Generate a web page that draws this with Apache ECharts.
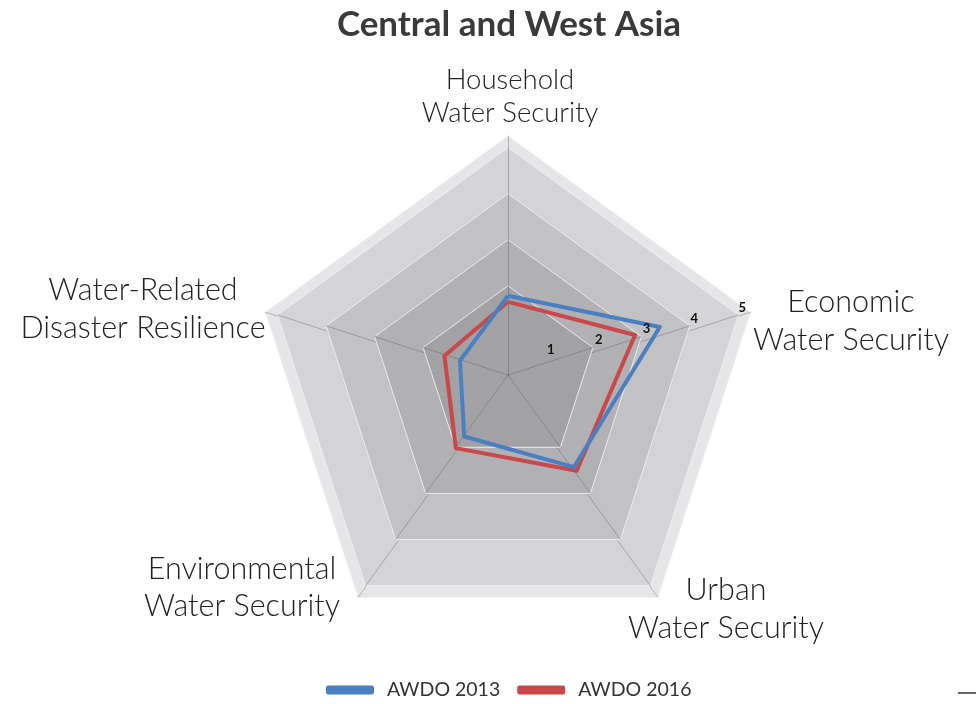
<!DOCTYPE html>
<html>
<head>
<meta charset="utf-8">
<script src="https://cdn.jsdelivr.net/npm/echarts@6/dist/echarts.min.js"></script>
<style>
html,body{margin:0;padding:0;background:#fff;}
#chart{width:977px;height:704px;}
</style>
</head>
<body>
<div id="chart"></div>
<script>
// ---- data (indicator order follows ECharts radar layout: top, then counter-clockwise) ----
const categories = [
  'Household\nWater Security',
  'Water-Related\nDisaster Resilience',
  'Environmental\nWater Security',
  'Urban\nWater Security',
  'Economic\nWater Security'
];
const awdo2013 = [1.58, 0.99, 1.46, 2.20, 3.13];
const awdo2016 = [1.46, 1.31, 1.74, 2.29, 2.62];
const tickLabels = ['1', '2', '3', '4', '5'];
const seriesNames = ['AWDO 2013', 'AWDO 2016'];
const scaleMax = 5;

// ---- layout / style ----
const FONT = 'Lato, "Open Sans", sans-serif';
const apex = [508, 366.5];
const outerCenterY = 391;
const outerR = 255;
const ringScales = [1, 0.95, 0.75, 0.55, 0.35];
const ringColors = ['#e6e6e8', '#d4d4d6', '#c2c2c4', '#b1b1b3', '#a2a2a4'];
const nameLayout = [[510, 97, 27.5, 33], [143, 309, 30.5, 38], [242, 588, 30.5, 37], [726, 609, 30.5, 38], [851, 321, 30.5, 38]];
const seriesColors = ['#4a7fc1', '#c9484a'];

const radars = [];
ringScales.forEach(function (s, j) {
  const c = [apex[0], apex[1] + s * (outerCenterY - apex[1])];
  const base = {
    center: c,
    radius: outerR * s,
    shape: 'polygon',
    splitNumber: 1,
    indicator: categories.map(function () { return { name: '', min: 0, max: 1 }; }),
    axisName: { show: false },
    axisTick: { show: false },
    axisLabel: { show: false },
    silent: true
  };
  radars.push(Object.assign({}, base, {
    z: 2 * j,
    axisLine: { show: false },
    splitLine: { show: true, lineStyle: { color: 'rgba(240,240,242,0.9)', width: 1 } },
    splitArea: { show: true, areaStyle: { color: [ringColors[j]] } }
  }));
  radars.push(Object.assign({}, base, {
    z: 2 * j + 1,
    axisLine: { show: true, lineStyle: { color: 'rgba(80,80,85,0.35)', width: 1 } },
    splitLine: { show: false },
    splitArea: { show: false }
  }));
});
const hiddenAxisParts = {
  axisName: { show: false },
  axisLine: { show: false },
  axisTick: { show: false },
  axisLabel: { show: false },
  splitLine: { show: false },
  splitArea: { show: false }
};
const dataRadarIndex = radars.length;
radars.push(Object.assign({
  z: 12,
  center: [apex[0], apex[1] + 0.4 * (outerCenterY - apex[1])],
  radius: outerR,
  shape: 'polygon',
  splitNumber: 5,
  indicator: categories.map(function (n) { return { name: n, min: 0, max: scaleMax }; })
}, hiddenAxisParts));
// value labels 1..5 along the Economic axis (axis follows the apex-to-corner direction)
radars.push(Object.assign({
  z: 40,
  silent: true,
  center: apex,
  radius: 245,
  startAngle: 84.4,
  shape: 'polygon',
  splitNumber: 5,
  indicator: categories.map(function (n, i) {
    const ind = { name: n, min: 0, max: scaleMax };
    if (i === 4) {
      ind.axisLabel = {
        show: true,
        margin: 6,
        fontSize: 13,
        fontWeight: 'bold',
        color: '#111',
        fontFamily: FONT,
        formatter: function (v) { return tickLabels[Math.round(v) - 1] || ''; }
      };
    }
    return ind;
  })
}, hiddenAxisParts));

const nameTexts = categories.map(function (n, i) {
  return {
    type: 'text',
    x: nameLayout[i][0],
    y: nameLayout[i][1],
    silent: true,
    style: {
      text: n,
      align: 'center',
      verticalAlign: 'middle',
      fontSize: nameLayout[i][2],
      fontWeight: 300,
      fontFamily: FONT,
      lineHeight: nameLayout[i][3],
      fill: '#222'
    }
  };
});
nameTexts.push({
  type: 'line',
  silent: true,
  shape: { x1: 958, y1: 693, x2: 976, y2: 693 },
  style: { stroke: '#333', lineWidth: 1.5 }
});

const chart = echarts.init(document.getElementById('chart'), null, { renderer: 'canvas' });
chart.setOption({
  backgroundColor: '#ffffff',
  animation: false,
  title: {
    text: 'Central and West Asia',
    left: 504,
    textAlign: 'center',
    top: 2,
    textStyle: { fontSize: 35, fontWeight: 'bold', color: '#3a3a3a', fontFamily: FONT }
  },
  legend: {
    data: seriesNames,
    left: 326,
    top: 680,
    padding: 0,
    icon: 'roundRect',
    itemWidth: 48,
    itemHeight: 9,
    itemGap: 17,
    textStyle: { fontSize: 19.5, color: '#333', fontFamily: FONT, padding: [0, 0, 0, 8] }
  },
  graphic: nameTexts,
  radar: radars,
  series: [
    {
      name: seriesNames[1],
      type: 'radar',
      radarIndex: dataRadarIndex,
      symbol: 'none',
      z: 20,
      color: seriesColors[1],
      lineStyle: { width: 4, color: seriesColors[1] },
      itemStyle: { color: seriesColors[1] },
      data: [{ name: seriesNames[1], value: awdo2016 }]
    },
    {
      name: seriesNames[0],
      type: 'radar',
      radarIndex: dataRadarIndex,
      symbol: 'none',
      z: 21,
      color: seriesColors[0],
      lineStyle: { width: 4, color: seriesColors[0] },
      itemStyle: { color: seriesColors[0] },
      data: [{ name: seriesNames[0], value: awdo2013 }]
    }
  ]
});
</script>
</body>
</html>
